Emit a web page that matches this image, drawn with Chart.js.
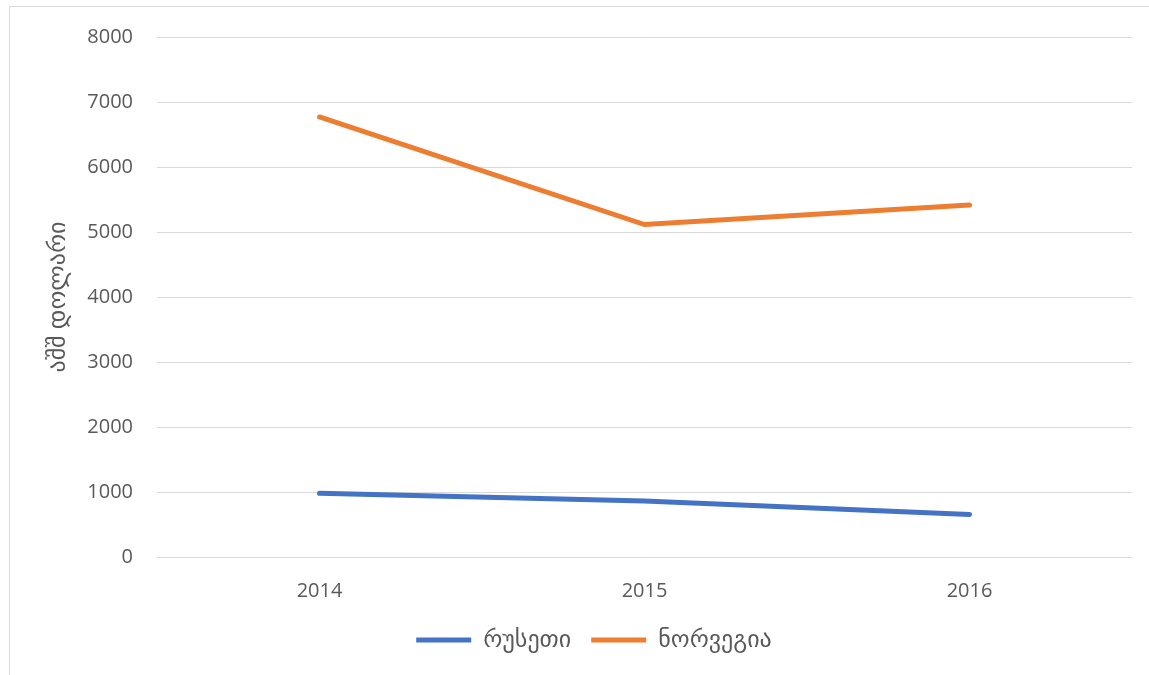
<!DOCTYPE html>
<html>
<head>
<meta charset="utf-8">
<script src="https://cdn.jsdelivr.net/npm/chart.js@4"></script>
<style>
  html, body { margin: 0; padding: 0; background: #fff; }
  #wrap { position: relative; width: 1149px; height: 675px; }
  #frame {
    position: absolute; left: 9px; top: 6px; width: 1200px; height: 700px;
    border-left: 1px solid #d9d9d9; border-top: 1px solid #d9d9d9;
  }
  canvas { position: absolute; left: 0; top: 0; }
</style>
</head>
<body>
<div id="wrap">
  <div id="frame"></div>
  <canvas id="chart" width="1149" height="675"></canvas>
</div>
<script>
const years = ["2014", "2015", "2016"];
const russia = [980, 860, 655];
const norway = [6770, 5115, 5415];
const seriesNames = ["რუსეთი", "ნორვეგია"];
const yTitle = "აშშ დოლარი";

const fontFamily = "'Open Sans', 'DejaVu Sans', sans-serif";
const textColor = "#595959";

// nudge the legend a bit right, like the original
const legendShift = {
  id: "legendShift",
  afterLayout(chart) {
    chart.legend.left += 23;
    chart.legend.right += 23;
  },
};

const config = {
  type: "line",
  data: {
    labels: years,
    datasets: [
      {
        label: seriesNames[0],
        data: russia,
        borderColor: "#4472C4",
        backgroundColor: "#4472C4",
        borderWidth: 5,
        borderCapStyle: "round",
        pointRadius: 0,
        pointStyle: "line",
        tension: 0,
      },
      {
        label: seriesNames[1],
        data: norway,
        borderColor: "#ED7D31",
        backgroundColor: "#ED7D31",
        borderWidth: 5,
        borderCapStyle: "round",
        pointRadius: 0,
        pointStyle: "line",
        tension: 0,
      },
    ],
  },
  plugins: [legendShift],
  options: {
    responsive: false,
    animation: false,
    layout: {
      padding: { top: 37, right: 17, left: 10, bottom: 13 },
    },
    plugins: {
      legend: {
        position: "bottom",
        labels: {
          usePointStyle: true,
          pointStyleWidth: 55,
          boxHeight: 24,
          padding: 20,
          color: textColor,
          font: { family: fontFamily, size: 24 },
        },
      },
      tooltip: { enabled: false },
    },
    scales: {
      x: {
        offset: true,
        grid: { display: false, drawTicks: false },
        border: { display: false },
        ticks: {
          color: textColor,
          padding: 22,
          font: { family: fontFamily, size: 20 },
        },
        afterFit: (scale) => {
          scale.height = 51;
        },
      },
      y: {
        min: 0,
        max: 8000,
        grid: { color: "#d9d9d9", lineWidth: 1, drawTicks: false },
        border: { display: false },
        ticks: {
          stepSize: 1000,
          color: textColor,
          padding: 24,
          font: { family: fontFamily, size: 20 },
          callback: (value) => String(value),
        },
        title: {
          display: true,
          text: yTitle,
          color: textColor,
          padding: { top: 34, bottom: 0 },
          font: { family: fontFamily, size: 24 },
        },
        afterFit: (scale) => {
          scale.width = 147;
        },
      },
    },
  },
};

new Chart(document.getElementById("chart"), config);
</script>
</body>
</html>
